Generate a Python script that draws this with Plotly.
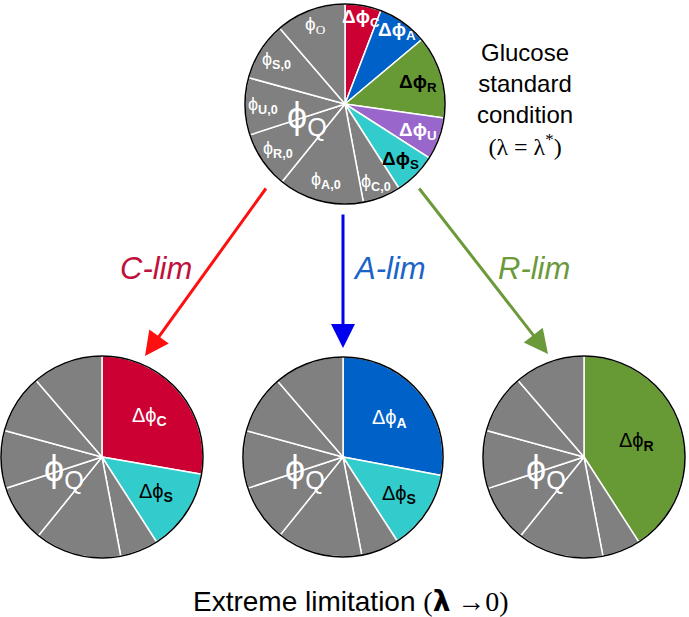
import math
import plotly.graph_objects as go

W, H = 689, 617

# ---------------- data ----------------
# slice sizes (degrees of the circle), clockwise from 12 o'clock
gray_keys = ["C,0", "A,0", "R,0", "U,0", "S,0", "O"]
gray_values = [22.0, 49.6, 33.0, 33.3, 34.0, 40.7]

top_keys = ["C", "A", "R", "U", "S"]
top_values = [21.0, 29.0, 48.0, 24.6, 24.8]

clim_keys = ["C", "S"]
clim_values = [99.8, 47.4]
alim_keys = ["A", "S"]
alim_values = [100.5, 46.5]
rlim_keys = ["R"]
rlim_values = [147.0]

# ---------------- styles ----------------
GRAY = "#808080"
COL = {"C": "#cc0033", "A": "#0061c9", "R": "#679a34", "U": "#9966cc", "S": "#33cccc"}
TXT = {"C": "white", "A": "white", "R": "black", "U": "white", "S": "black"}
FONT = "Liberation Sans, Arial, Helvetica, sans-serif"
SERIF = "Liberation Serif, Times New Roman, serif"
PHI = "ϕ"

# pie geometry in pixels (cx, cy, r)
TOP = (345, 104, 100)
LEFT = (102, 457, 101)
MID = (343, 457, 100)
RIGHT = (584, 457, 101)


def domain(cx, cy, r):
    return dict(x=[(cx - r) / W, (cx + r) / W], y=[1 - (cy + r) / H, 1 - (cy - r) / H])


def px(x, y):
    return x / W, 1 - y / H


fig = go.Figure()
annotations = []


def add_pie(geom, keys, values, label_fracs, top=False):
    cx, cy, r = geom
    all_vals = list(values) + gray_values
    colors = [COL[k] for k in keys] + [GRAY] * len(gray_values)
    dom = domain(cx, cy, r)
    fig.add_trace(go.Pie(values=all_vals, sort=False, direction="clockwise", rotation=0,
                         marker=dict(colors=colors, line=dict(color="white", width=1.5)),
                         textinfo="none", hoverinfo="skip", showlegend=False, domain=dom))
    fig.add_trace(go.Pie(values=[1], sort=False, marker=dict(colors=["rgba(0,0,0,0)"],
                         line=dict(color="black", width=1.5)),
                         textinfo="none", hoverinfo="skip", showlegend=False, domain=dom))
    total = sum(all_vals)
    cum = 0.0
    n_col = len(values)
    for i, v in enumerate(all_vals):
        mid = (cum + v / 2) / total * 2 * math.pi
        cum += v
        frac = label_fracs[i] if i < len(label_fracs) else None
        if frac is None:
            continue
        x = cx + frac * r * math.sin(mid)
        y = cy - frac * r * math.cos(mid)
        if i < n_col:
            k = keys[i]
            if top:
                txt = "<b>Δ%s<sub>%s</sub></b>" % (PHI, k)
                size = 19
            else:
                txt = "Δ%s<sub><b>%s</b></sub>" % (PHI, k)
                size = 20
            color = TXT[k]
        else:
            k = gray_keys[i - n_col]
            if k == "O":
                txt = "%s<sub><span style=\"font-family:%s\">O</span></sub>" % (PHI, SERIF)
                size = 19
            else:
                txt = "%s<sub><b>%s</b></sub>" % (PHI, k)
                size = 18
            color = "white"
        xp, yp = px(x, y)
        annotations.append(dict(x=xp, y=yp, xref="paper", yref="paper", text=txt, showarrow=False,
                                font=dict(family=FONT, size=size, color=color),
                                xanchor="center", yanchor="middle"))
    # phi_Q
    xp, yp = px(cx - 38, cy + 14)
    annotations.append(dict(x=xp, y=yp, xref="paper", yref="paper", text="%s<sub>Q</sub>" % PHI,
                            showarrow=False, font=dict(family=FONT, size=36, color="white"),
                            xanchor="center", yanchor="middle"))


add_pie(TOP, top_keys, top_values,
        [0.87, 0.9, 0.76, 0.78, 0.79, 0.84, 0.79, 0.81, 0.82, 0.81, 0.84], top=True)
add_pie(LEFT, clim_keys, clim_values, [0.62, 0.64])
add_pie(MID, alim_keys, alim_values, [0.6, 0.68])
add_pie(RIGHT, rlim_keys, rlim_values, [0.54])

# arrows
arrows = [
    ((145, 356), (267, 187), "#ff1010"),
    ((343, 348), (343, 213), "#0000ee"),
    ((548, 354), (418, 187), "#6b9a3a"),
]
for (tx, ty), (sx, sy), c in arrows:
    xp, yp = px(tx, ty)
    annotations.append(dict(x=xp, y=yp, xref="paper", yref="paper", ax=sx - tx, ay=sy - ty,
                            showarrow=True, arrowhead=2, arrowsize=1.6, arrowwidth=3,
                            arrowcolor=c, text=""))

# lim labels
for label, (x, y), c in [("C-lim", (156, 268), "#c0103c"),
                         ("A-lim", (389, 268), "#1a63c8"),
                         ("R-lim", (534, 268), "#6b9a3a")]:
    xp, yp = px(x, y)
    annotations.append(dict(x=xp, y=yp, xref="paper", yref="paper", text="<i>%s</i>" % label,
                            showarrow=False, font=dict(family=FONT, size=31, color=c),
                            xanchor="center", yanchor="middle"))

# glucose text
xp, yp = px(525, 99)
annotations.append(dict(x=xp, y=yp, xref="paper", yref="paper",
                        text="Glucose<br>standard<br>condition<br>"
                             "<span style=\"font-family:%s\">(λ = λ<sup>*</sup>)</span>" % SERIF,
                        showarrow=False, align="center",
                        font=dict(family=FONT, size=24, color="black"),
                        xanchor="center", yanchor="middle"))

# bottom text
xp, yp = px(351, 601)
annotations.append(dict(x=xp, y=yp, xref="paper", yref="paper",
                        text="Extreme limitation <span style=\"font-family:%s\">(</span>"
                             "<span style=\"font-family:DejaVu Sans\"><b>λ</b></span>"
                             "<span style=\"font-family:%s\"> →0)</span>" % (SERIF, SERIF),
                        showarrow=False, font=dict(family=FONT, size=28, color="black"),
                        xanchor="center", yanchor="middle"))

fig.update_layout(width=W, height=H, margin=dict(l=0, r=0, t=0, b=0),
                  paper_bgcolor="white", plot_bgcolor="white",
                  annotations=annotations, showlegend=False)
fig.write_html("out.html", config={"displayModeBar": False},
               post_script="document.body.style.margin='0';")
